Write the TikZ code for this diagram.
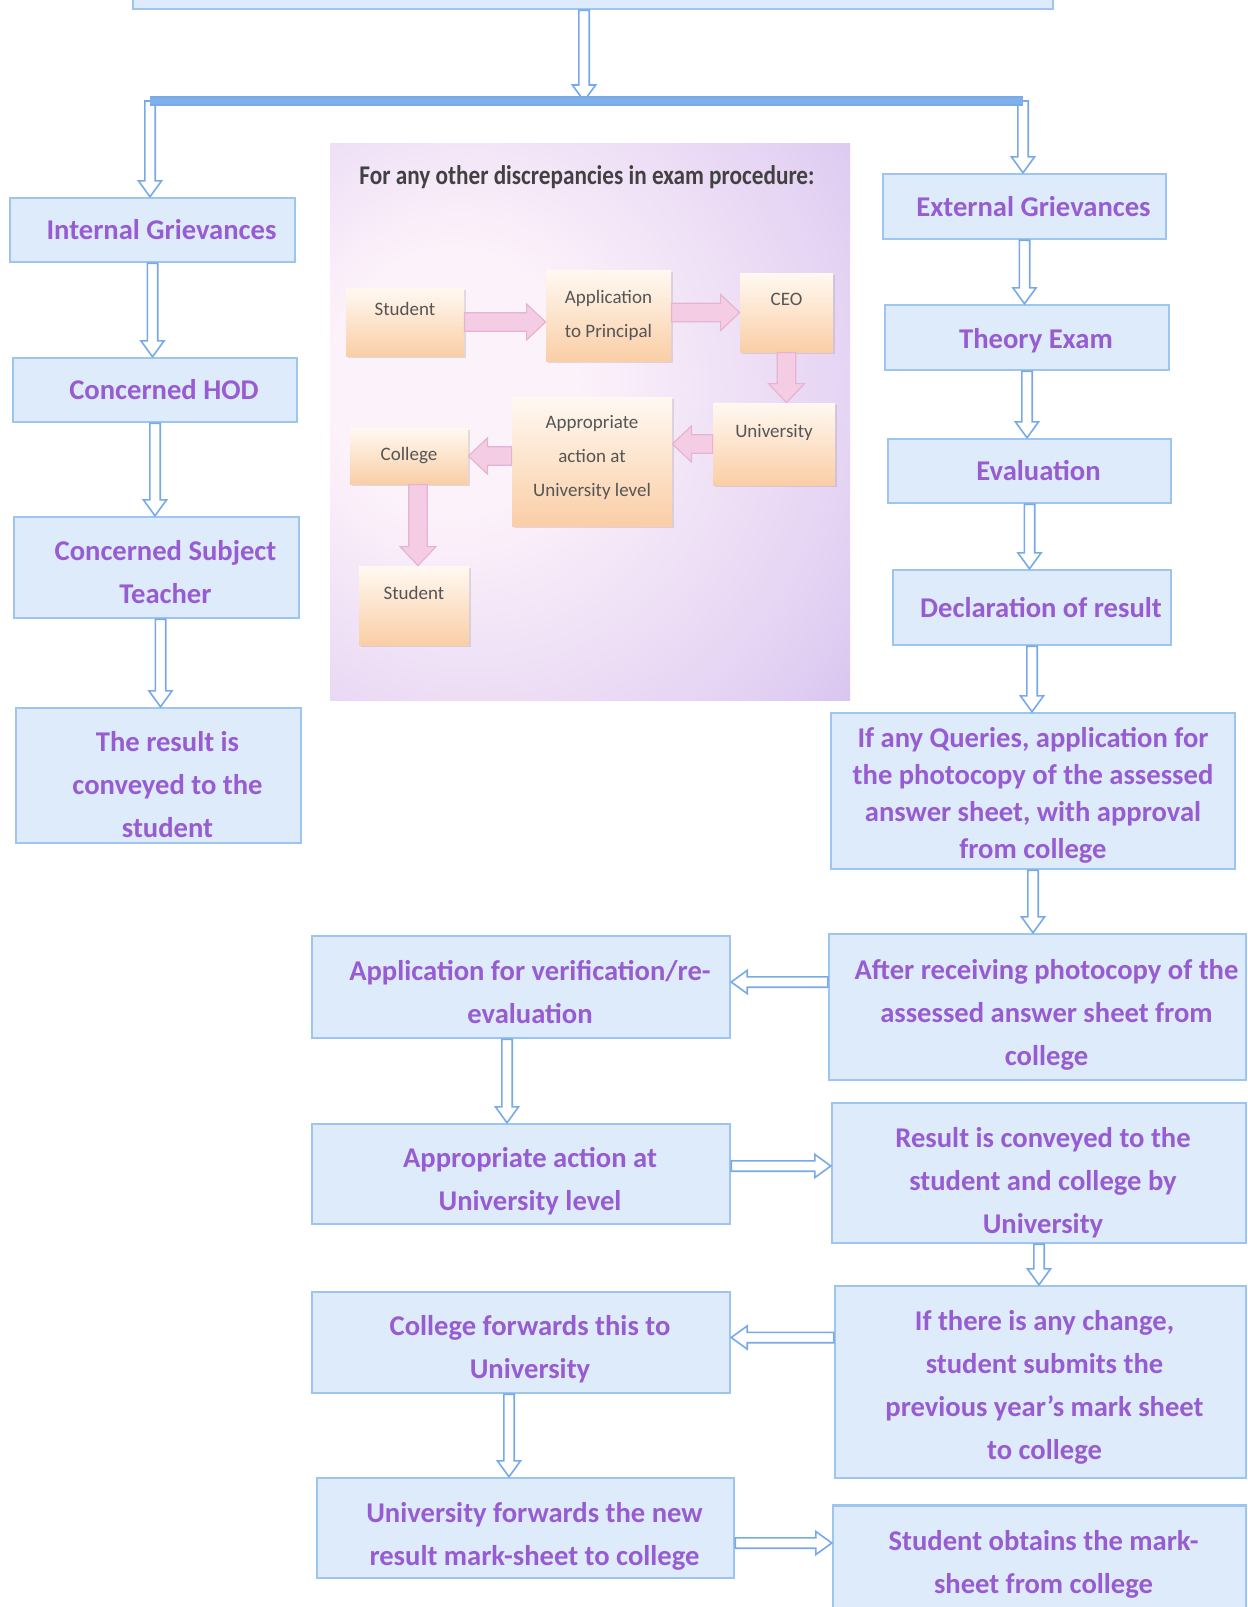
\documentclass[tikz,border=0pt]{standalone}
\usepackage{fontspec}
\setmainfont{Carlito}
\usepackage{graphicx}
\usepackage{tikz}
\usetikzlibrary{calc}
\usetikzlibrary{shadows}

\definecolor{boxfill}{RGB}{222,235,250}
\definecolor{boxline}{RGB}{158,197,240}
\definecolor{txtpurple}{RGB}{152,92,210}
\definecolor{arrowblue}{RGB}{120,170,232}
\definecolor{barblue}{RGB}{128,176,236}
\definecolor{insetin}{RGB}{252,242,250}
\definecolor{insetmid}{RGB}{228,210,243}
\definecolor{insetout}{RGB}{198,176,235}
\definecolor{peach}{RGB}{250,206,166}
\definecolor{cream}{RGB}{255,249,242}
\definecolor{insettext}{RGB}{85,85,85}
\definecolor{headgray}{RGB}{65,65,65}
\definecolor{pinkfill}{RGB}{244,204,228}
\definecolor{pinkline}{RGB}{230,180,210}

\newcommand{\boxfont}{\fontsize{14.3}{21.5}\selectfont\bfseries}
\newcommand{\tightfont}{\fontsize{14.3}{18.5}\selectfont\bfseries}
\newcommand{\insfont}{\fontsize{9.5}{17}\selectfont}
\newcommand{\insheadfont}{\fontsize{13.5}{15}\selectfont\bfseries}
\newcommand{\pushdown}[1]{\rule{0pt}{#1}}
\newcommand{\txshift}{9pt}

\pgfdeclareradialshading{insetglow}{\pgfpoint{-15bp}{4bp}}{color(0bp)=(insetin); color(12bp)=(insetin); color(36bp)=(insetmid); color(56bp)=(insetout); color(100bp)=(insetout)}

\tikzset{
  arrshaft/.store in=\arrshaft, arrhead/.store in=\arrhead, arrtip/.store in=\arrtip,
  arrshaft=2.6pt, arrhead=5.8pt, arrtip=8pt,
  hollow/.style={to path={let \p1=($(\tikztotarget)!\arrtip!(\tikztostart)$) in
    ($(\tikztostart)!\arrshaft!90:(\tikztotarget)$) -- ($(\p1)!\arrshaft!90:(\tikztotarget)$)
    -- ($(\p1)!\arrhead!90:(\tikztotarget)$) -- (\tikztotarget)
    -- ($(\p1)!\arrhead!-90:(\tikztotarget)$) -- ($(\p1)!\arrshaft!-90:(\tikztotarget)$)
    -- ($(\tikztostart)!\arrshaft!-90:(\tikztotarget)$) -- cycle}},
  arr/.style={draw=arrowblue, fill=white, line width=0.8pt, hollow},
  pinkarr/.style={draw=pinkline, fill=pinkfill, line width=0.6pt, arrshaft=4.6pt, arrhead=9pt, arrtip=9.5pt, hollow},
  bar/.style={draw=arrowblue, line width=0.8pt, double=barblue, double distance=3.4pt},
  tx/.style={/utils/exec={\renewcommand{\txshift}{#1}}},
  box/.style={draw=boxline, fill=boxfill, line width=1.2pt, text=txtpurple, font=\boxfont, align=center, inner sep=2pt, tx=9pt, execute at begin node={\hspace*{\txshift}}},
  ibox/.style={top color=cream, bottom color=peach, text=insettext, font=\insfont, align=center, inner sep=2pt, drop shadow={shadow xshift=1.2pt, shadow yshift=-1.2pt, opacity=0.22}},
  itop/.style={text depth=13pt},
  wh/.style 2 args={minimum width=#1*0.5pt, minimum height=#2*0.5pt}
}

\begin{document}
\begin{tikzpicture}[x=0.5pt, y=-0.5pt]
\path[use as bounding box, fill=white] (0,0) rectangle (1248,1607);

% top
\node[box, wh={920}{60}] (top) at (593,-21) {};
\coordinate (fork) at (584,101);
\coordinate (forkL) at (150,101);
\coordinate (forkR) at (1023,101);

% left column
\node[box, wh={285}{64}] (intgr) at (152.5,230) {Internal Grievances};
\node[box, wh={284}{64}] (hod) at (155,390) {Concerned HOD};
\node[box, wh={285}{101}] (teacher) at (156.5,567.5) {\pushdown{15pt}Concerned Subject\\Teacher};
\node[box, wh={285}{135}] (conveyed) at (158.5,775.5) {\pushdown{19pt}The result is\\conveyed to the\\student};

% inset
\shade[shading=insetglow] (330,143) rectangle (850,700);
\node[text=headgray, font=\insheadfont] (ihead) at (587,177) {\scalebox{0.86}[1]{For any other discrepancies in exam procedure:}};
\node[ibox, itop, wh={118}{68}] (istudent) at (405,322) {Student};
\node[ibox, wh={125}{91}] (iapp) at (608.5,315.5) {Application\\to Principal};
\node[ibox, itop, wh={93}{79}] (iceo) at (786.5,312.5) {CEO};
\node[ibox, itop, wh={122}{82}] (iuni) at (774,444) {University};
\node[ibox, text depth=6pt, wh={160}{129}] (iact) at (592,461.5) {Appropriate\\action at\\University level};
\node[ibox, wh={118}{56}] (icol) at (409,456) {College};
\node[ibox, itop, wh={110}{79}] (istudent2) at (414,605.5) {Student};

\draw[pinkarr] (istudent.east) to (istudent.east -| iapp.west);
\draw[pinkarr] (iapp.east |- iceo.west) to (iceo.west);
\draw[pinkarr] (iceo.south) to (iceo.south |- iuni.north);
\draw[pinkarr] (iuni.west) to (iuni.west -| iact.east);
\draw[pinkarr] (iact.west |- icol.east) to (icol.east);
\draw[pinkarr] ([xshift=4.5pt]icol.south) to ([xshift=4.5pt]icol.south |- istudent2.north);

% right column
\node[box, wh={283}{65}] (extgr) at (1024.5,206.5) {External Grievances};
\node[box, wh={284}{65}] (theory) at (1027,337.5) {\pushdown{13pt}Theory Exam};
\node[box, wh={283}{64}] (evalu) at (1029.5,471) {Evaluation};
\node[box, wh={278}{75}] (declare) at (1032,607.5) {Declaration of result};
\node[box, font=\tightfont, tx=0pt, wh={404}{156}] (queries) at (1033,791) {\pushdown{14pt}If any Queries, application for\\the photocopy of the assessed\\answer sheet, with approval\\from college};
\node[box, wh={417}{146}] (after) at (1037.5,1007) {\pushdown{18pt}After receiving photocopy of the\\assessed answer sheet from\\college};
\node[box, tx=4pt, wh={414}{140}] (resuniv) at (1039,1173) {\pushdown{20pt}Result is conveyed to the\\student and college by\\University};
\node[box, tx=4pt, wh={411}{192}] (change) at (1040.5,1382) {\pushdown{15pt}If there is any change,\\student submits the\\previous year’s mark sheet\\to college};
\node[box, tx=4pt, wh={413}{109}] (obtain) at (1039.5,1560) {\pushdown{14pt}Student obtains the mark-\\sheet from college};

% middle column
\node[box, wh={418}{102}] (appver) at (521,987) {\pushdown{15pt}Application for verification/re-\\evaluation};
\node[box, wh={418}{100}] (appact) at (521,1174) {\pushdown{17pt}Appropriate action at\\University level};
\node[box, wh={418}{101}] (collfwd) at (521,1342.5) {\pushdown{17pt}College forwards this to\\University};
\node[box, wh={417}{100}] (univfwd) at (525.5,1528) {\pushdown{18pt}University forwards the new\\result mark-sheet to college};

% arrows
\draw[arr] (fork |- top.south) to (fork);
\draw[arr] (forkL) to (forkL |- intgr.north);
\draw[arr] (forkR) to (forkR |- extgr.north);
\draw[bar] (forkL) -- (forkR);

\draw[arr] (intgr.south) to (intgr.south |- hod.north);
\draw[arr] (hod.south) to (hod.south |- teacher.north);
\draw[arr] ([xshift=2pt]teacher.south) to ([xshift=2pt]teacher.south |- conveyed.north);

\draw[arr] (extgr.south) to (extgr.south |- theory.north);
\draw[arr] (theory.south) to (theory.south |- evalu.north);
\draw[arr] (evalu.south) to (evalu.south |- declare.north);
\draw[arr] (declare.south) to (declare.south |- queries.north);
\draw[arr] (queries.south) to (queries.south |- after.north);
\draw[arr] (resuniv.south) to (resuniv.south |- change.north);

\draw[arr] ([yshift=2.5pt]after.west |- appver.east) to ([yshift=2.5pt]appver.east);
\draw[arr] ([xshift=-7pt]appver.south) to ([xshift=-7pt]appver.south |- appact.north);
\draw[arr] ([yshift=4pt]appact.east) to ([yshift=4pt]appact.east -| resuniv.west);
\draw[arr] ([yshift=2.5pt]change.west |- collfwd.east) to ([yshift=2.5pt]collfwd.east);
\draw[arr] ([xshift=-6pt]collfwd.south) to ([xshift=-6pt]collfwd.south |- univfwd.north);
\draw[arr] ([yshift=-7.5pt]univfwd.east) to ([yshift=-7.5pt]univfwd.east -| obtain.west);

\end{tikzpicture}
\end{document}
